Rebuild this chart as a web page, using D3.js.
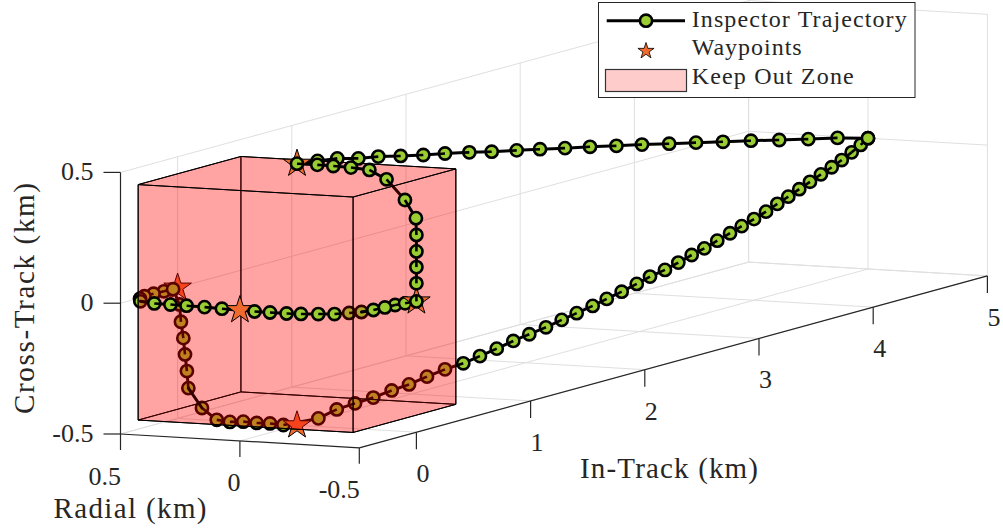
<!DOCTYPE html>
<html>
<head>
<meta charset="utf-8">
<script src="https://cdn.jsdelivr.net/npm/d3@7"></script>
<style>
  html, body { margin: 0; padding: 0; background: #ffffff; }
  svg { display: block; }
  text { font-family: "Liberation Serif", "Times New Roman", serif; fill: #262626; }
</style>
</head>
<body>
<svg id="chart" width="1003" height="529"></svg>
<script>
// ---- Inspector trajectory (km), target-centred frame ----
const radialKm = [
  0, 0, 0, 0, 0, 0, 0, 0, 0, 0, 0, 0, 0, 0, 0, 0, 0, 0, 0, 0, 0, 0, 0, 0,
  -0.085, -0.152, -0.226, -0.303, -0.375, -0.452, -0.498, -0.500, -0.500, -0.500, -0.500, -0.500,
  -0.485, -0.472, -0.468, -0.460, -0.444, -0.414, -0.377, -0.321, -0.260, -0.204, -0.134, -0.068,
  0.080, 0.160, 0.240, 0.310, 0.380, 0.455, 0.490, 0.505, 0.505, 0.500, 0.495,
  0.492, 0.486, 0.476, 0.469, 0.461, 0.455, 0.398, 0.336, 0.281, 0.225, 0.169, 0.113, 0.057,
  0, 0, 0, 0, 0, 0, 0, 0, 0, 0, 0, 0, 0, 0, 0, 0, 0, 0, 0, 0,
  0, 0, 0, 0, 0, 0, 0, 0, 0, 0, 0, 0, 0, 0, 0, 0, 0, 0, 0, 0
];
const inTrackKm = [
  5.000, 4.733, 4.477, 4.223, 3.975, 3.730, 3.494, 3.259, 3.021, 2.797, 2.566, 2.347,
  2.128, 1.924, 1.705, 1.509, 1.296, 1.106, 0.908, 0.712, 0.537, 0.353, 0.180, 0.000,
  0, 0, 0, 0, 0, 0, 0, 0, 0, 0, 0, 0,
  -0.068, -0.128, -0.209, -0.293, -0.364, -0.409, -0.460, -0.485, -0.509, -0.518, -0.517, -0.514,
  -0.490, -0.475, -0.465, -0.460, -0.455, -0.420, -0.350, -0.280, -0.200, -0.120, -0.050,
  0, 0, 0, 0, 0, 0, 0, 0, 0, 0, 0, 0, 0,
  0.187, 0.348, 0.508, 0.668, 0.829, 0.981, 1.138, 1.296, 1.456, 1.602, 1.749, 1.894,
  2.034, 2.180, 2.318, 2.449, 2.589, 2.712, 2.843, 2.975, 3.091, 3.222, 3.339, 3.456,
  3.567, 3.680, 3.792, 3.894, 4.002, 4.107, 4.206, 4.302, 4.398, 4.492, 4.588, 4.682,
  4.770, 4.857, 4.936, 5.000
];
const crossTrackKm = [
  0.000, 0.033, 0.059, 0.086, 0.113, 0.138, 0.163, 0.187, 0.212, 0.234, 0.258, 0.279,
  0.301, 0.321, 0.342, 0.363, 0.384, 0.401, 0.421, 0.442, 0.456, 0.478, 0.489, 0.500,
  0.500, 0.499, 0.497, 0.492, 0.460, 0.385, 0.318, 0.254, 0.191, 0.131, 0.069, 0.000,
  0, 0, 0, 0, 0, 0, 0, 0, 0, 0, 0, 0,
  0, 0, 0, 0, 0, 0, 0, 0, 0, 0, 0,
  -0.064, -0.130, -0.192, -0.254, -0.317, -0.382, -0.455, -0.497, -0.502, -0.498, -0.500, -0.499, -0.502,
  -0.496, -0.481, -0.477, -0.474, -0.466, -0.461, -0.450, -0.441, -0.437, -0.427, -0.416, -0.404,
  -0.395, -0.386, -0.374, -0.364, -0.353, -0.341, -0.329, -0.315, -0.301, -0.291, -0.277, -0.262,
  -0.250, -0.234, -0.219, -0.204, -0.190, -0.174, -0.156, -0.140, -0.123, -0.106, -0.089, -0.073,
  -0.056, -0.037, -0.018, 0.000
];

// ---- Waypoints (km) ----
const waypointRadial = [0, -0.5, 0, 0.5, 0];
const waypointInTrack = [0, 0, -0.5, 0, 0];
const waypointCross = [0.5, 0, 0, 0, -0.5];

// ---- Keep out zone (cube, km) ----
const kozRadial = [-0.45, 0.45];
const kozInTrack = [-0.45, 0.45];
const kozCross = [-0.45, 0.45];

// ---- Axes ----
const radialLim = [0.5, -0.5];
const inTrackLim = [-0.5, 5];
const crossLim = [-0.5, 0.5];
const radialTicks = [0.5, 0, -0.5];
const inTrackTicks = [0, 1, 2, 3, 4, 5];
const crossTicks = [-0.5, 0, 0.5];
const legendLabels = ["Inspector Trajectory", "Waypoints", "Keep Out Zone"];

// ---------------------------------------------------------------
const svg = d3.select("#chart");

// data -> unit box coordinates
const xS = d3.scaleLinear().domain(radialLim).range([0, 1]);
const yS = d3.scaleLinear().domain(inTrackLim).range([0, 1]);
const zS = d3.scaleLinear().domain(crossLim).range([0, 1]);

// orthographic camera: screen image of the box corner and its three edges
const corner = [120.5, 434];
const Eu = [238.8, 13.8];
const Ev = [628.1, -171.9];
const Ew = [0, -261.6];

function toUnit(x, y, z) { return [xS(x), yS(y), zS(z)]; }
function proj(q) {
  return [corner[0] + q[0] * Eu[0] + q[1] * Ev[0] + q[2] * Ew[0],
          corner[1] + q[0] * Eu[1] + q[1] * Ev[1] + q[2] * Ew[1]];
}
function P(x, y, z) { return proj(toUnit(x, y, z)); }

// viewing direction = null vector of the projection; camera looks down (w decreasing)
let dir = [Ev[0] * Ew[1] - Ew[0] * Ev[1], Ew[0] * Eu[1] - Eu[0] * Ew[1], Eu[0] * Ev[1] - Ev[0] * Eu[1]];
if (dir[2] > 0) dir = dir.map(d => -d);
const dn = Math.hypot(...dir);
dir = dir.map(d => d / dn);
const depth = q => q[0] * dir[0] + q[1] * dir[1] + q[2] * dir[2];

const box = [
  d3.extent(kozRadial.map(xS)),
  d3.extent(kozInTrack.map(yS)),
  d3.extent(kozCross.map(zS))
];
const boxCenter = box.map(b => (b[0] + b[1]) / 2);

// where a point sits relative to the translucent cube along the view ray
function classify(q) {
  let tmin = -Infinity, tmax = Infinity;
  for (let k = 0; k < 3; k++) {
    const d = dir[k];
    if (Math.abs(d) < 1e-12) {
      if (q[k] < box[k][0] || q[k] > box[k][1]) { tmin = 1; tmax = 0; break; }
      continue;
    }
    let t1 = (box[k][0] - q[k]) / d, t2 = (box[k][1] - q[k]) / d;
    if (t1 > t2) [t1, t2] = [t2, t1];
    tmin = Math.max(tmin, t1);
    tmax = Math.min(tmax, t2);
  }
  if (tmax < tmin) return depth(q) > depth(boxCenter) ? "back" : "front";
  if (tmin > 0) return "front";
  if (tmax < 0) return "back";
  return "inside";
}

const line = d3.line();
const fmt = d => String(d);

// ---- grid ----
const gGrid = svg.append("g").attr("stroke", "#dfdfdf").attr("stroke-width", 1).attr("fill", "none");
const gridSegs = [];
crossTicks.forEach(z => gridSegs.push([[radialLim[0], inTrackLim[0], z], [radialLim[0], inTrackLim[1], z]]));
inTrackTicks.forEach(y => gridSegs.push([[radialLim[0], y, crossLim[0]], [radialLim[0], y, crossLim[1]]]));
crossTicks.forEach(z => gridSegs.push([[radialLim[0], inTrackLim[1], z], [radialLim[1], inTrackLim[1], z]]));
radialTicks.forEach(x => gridSegs.push([[x, inTrackLim[1], crossLim[0]], [x, inTrackLim[1], crossLim[1]]]));
radialTicks.forEach(x => gridSegs.push([[x, inTrackLim[0], crossLim[0]], [x, inTrackLim[1], crossLim[0]]]));
inTrackTicks.forEach(y => gridSegs.push([[radialLim[0], y, crossLim[0]], [radialLim[1], y, crossLim[0]]]));
gGrid.selectAll("path").data(gridSegs).join("path")
  .attr("d", s => line(s.map(p => P(...p))));

// ---- axes ----
const gAxes = svg.append("g").attr("stroke", "#262626").attr("stroke-width", 1.2).attr("fill", "none");
const axisSegs = [
  [[radialLim[0], inTrackLim[0], crossLim[0]], [radialLim[1], inTrackLim[0], crossLim[0]]],
  [[radialLim[1], inTrackLim[0], crossLim[0]], [radialLim[1], inTrackLim[1], crossLim[0]]],
  [[radialLim[0], inTrackLim[0], crossLim[0]], [radialLim[0], inTrackLim[0], crossLim[1]]]
];
gAxes.selectAll("path.ax").data(axisSegs).join("path").attr("class", "ax")
  .attr("d", s => line(s.map(p => P(...p))));

const radTickPts = radialTicks.map(x => P(x, inTrackLim[0], crossLim[0]));
const inTickPts = inTrackTicks.map(y => P(radialLim[1], y, crossLim[0]));
const crossTickPts = crossTicks.map(z => P(radialLim[0], inTrackLim[0], z));

gAxes.selectAll("path.rt").data(radTickPts).join("path").attr("class", "rt")
  .attr("d", p => line([p, [p[0], p[1] + 16]]));
gAxes.selectAll("path.it").data(inTickPts).join("path").attr("class", "it")
  .attr("d", p => line([p, [p[0], p[1] + 17]]));
gAxes.selectAll("path.ct").data(crossTickPts).join("path").attr("class", "ct")
  .attr("d", p => line([p, [p[0] - 17, p[1]]]));

const gLabels = svg.append("g").style("font-size", "26px");
gLabels.selectAll("text.rl").data(radialTicks).join("text").attr("class", "rl")
  .attr("text-anchor", "end")
  .attr("x", (d, i) => radTickPts[i][0] + 0.5)
  .attr("y", (d, i) => radTickPts[i][1] + 50.5)
  .text(fmt);
gLabels.selectAll("text.il").data(inTrackTicks).join("text").attr("class", "il")
  .attr("text-anchor", "middle")
  .attr("x", (d, i) => inTickPts[i][0] + 6.5)
  .attr("y", (d, i) => inTickPts[i][1] + 50)
  .text(fmt);
gLabels.selectAll("text.cl").data(crossTicks).join("text").attr("class", "cl")
  .attr("text-anchor", "end")
  .attr("x", 93.5)
  .attr("y", (d, i) => crossTickPts[i][1] + 7.5)
  .text(fmt);

const gTitles = svg.append("g").style("font-size", "29px");
gTitles.append("text").attr("x", 580).attr("y", 478)
  .attr("textLength", 178).attr("lengthAdjust", "spacing").text("In-Track (km)");
gTitles.append("text").attr("x", 53.5).attr("y", 518)
  .attr("textLength", 153).attr("lengthAdjust", "spacing").text("Radial (km)");
gTitles.append("text").attr("transform", "translate(34,414) rotate(-90)")
  .attr("textLength", 231).attr("lengthAdjust", "spacing").text("Cross-Track (km)");

// ---- depth layers around the translucent cube ----
const layerNames = ["back", "backFaces", "inside", "frontFaces", "front"];
const layers = {};
layerNames.forEach(n => { layers[n] = svg.append("g"); });
const lineLayers = {}, markLayers = {};
["back", "inside", "front"].forEach(n => {
  lineLayers[n] = layers[n].append("g");
  markLayers[n] = layers[n].append("g");
});

// cube faces
const faces = [];
for (let k = 0; k < 3; k++) {
  const j = (k + 1) % 3, l = (k + 2) % 3;
  for (let s = 0; s < 2; s++) {
    const corners = [[0, 0], [1, 0], [1, 1], [0, 1]].map(([a, b]) => {
      const q = [0, 0, 0];
      q[k] = box[k][s]; q[j] = box[j][a]; q[l] = box[l][b];
      return proj(q);
    });
    const facing = (s ? 1 : -1) * dir[k] < 0 ? "frontFaces" : "backFaces";
    faces.push({ corners, facing });
  }
}
faces.forEach(f => {
  layers[f.facing].append("path")
    .attr("d", line(f.corners) + "Z")
    .attr("fill", "rgb(255,0,0)").attr("fill-opacity", 0.2)
    .attr("stroke", "#000").attr("stroke-width", 1).attr("stroke-linejoin", "round");
});

// trajectory
const traj = radialKm.map((x, i) => toUnit(x, inTrackKm[i], crossTrackKm[i]));
for (let i = 0; i < traj.length - 1; i++) {
  const a = traj[i], b = traj[i + 1];
  const mid = a.map((v, k) => (v + b[k]) / 2);
  lineLayers[classify(mid)].append("path")
    .attr("d", line([proj(a), proj(b)]))
    .attr("stroke", "#000").attr("stroke-width", 3).attr("stroke-linecap", "round").attr("fill", "none");
}

const markerR = 6.1;
const marks = [];
traj.forEach((q, i) => marks.push({ type: "traj", q, i, d: depth(q), tie: 1 }));
waypointRadial.forEach((x, i) => {
  const q = toUnit(x, waypointInTrack[i], waypointCross[i]);
  marks.push({ type: "wp", q, i, d: depth(q), tie: 0 });
});
marks.sort((a, b) => (b.d - a.d) || (a.tie - b.tie));

function starPath(cx, cy, R) {
  const pts = [];
  for (let k = 0; k < 10; k++) {
    const r = k % 2 ? R * 0.382 : R;
    const ang = -Math.PI / 2 + k * Math.PI / 5;
    pts.push([cx + r * Math.cos(ang), cy + r * Math.sin(ang)]);
  }
  return line(pts) + "Z";
}

const starFill = "rgb(240,105,45)";
const markerFill = "rgb(154,205,50)";

marks.forEach(m => {
  const g = markLayers[classify(m.q)];
  const [cx, cy] = proj(m.q);
  if (m.type === "wp") {
    g.append("path").attr("d", starPath(cx, cy, 14.5))
      .attr("fill", starFill).attr("stroke", "#000").attr("stroke-width", 1);
  } else {
    g.append("circle").attr("cx", cx).attr("cy", cy).attr("r", markerR)
      .attr("fill", markerFill).attr("stroke", "#000").attr("stroke-width", 2.6);
    // portion of the path lying in front of the marker sprite
    [m.i - 1, m.i + 1].forEach(j => {
      if (j < 0 || j >= traj.length) return;
      if (depth(traj[j]) >= m.d) return;
      const [nx, ny] = proj(traj[j]);
      const len = Math.hypot(nx - cx, ny - cy);
      if (len < 1e-6) return;
      const L = Math.min(markerR, len);
      g.append("path")
        .attr("d", line([[cx, cy], [cx + (nx - cx) / len * L, cy + (ny - cy) / len * L]]))
        .attr("stroke", "#000").attr("stroke-width", 2.6).attr("fill", "none");
    });
  }
});

// ---- legend ----
const lg = svg.append("g");
lg.append("rect").attr("x", 598.5).attr("y", 2.5).attr("width", 316.5).attr("height", 95)
  .attr("fill", "#fff").attr("stroke", "#262626").attr("stroke-width", 1);
lg.append("path").attr("d", line([[606.7, 20.7], [685, 20.7]]))
  .attr("stroke", "#000").attr("stroke-width", 3);
lg.append("circle").attr("cx", 646).attr("cy", 20.7).attr("r", markerR)
  .attr("fill", markerFill).attr("stroke", "#000").attr("stroke-width", 2.6);
lg.append("path").attr("d", starPath(646, 51, 8.5))
  .attr("fill", starFill).attr("stroke", "#000").attr("stroke-width", 0.8);
lg.append("rect").attr("x", 605.5).attr("y", 69.5).attr("width", 81).attr("height", 22)
  .attr("fill", "rgb(255,204,204)").attr("stroke", "#333").attr("stroke-width", 1.2);
const legendY = [26.7, 55, 84];
const legendLen = [215, 110, 162];
lg.selectAll("text").data(legendLabels).join("text")
  .attr("x", 691.7).attr("y", (d, i) => legendY[i])
  .attr("textLength", (d, i) => legendLen[i]).attr("lengthAdjust", "spacing")
  .style("font-size", "24px")
  .text(d => d);
</script>
</body>
</html>
